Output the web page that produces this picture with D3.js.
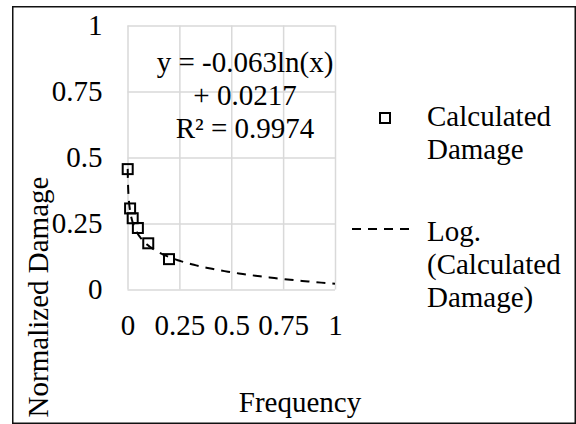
<!DOCTYPE html>
<html>
<head>
<meta charset="utf-8">
<script src="https://cdn.jsdelivr.net/npm/d3@7"></script>
<style>
  body { margin: 0; background: #fff; }
  svg text { font-family: "Liberation Serif", "Tinos", "Times New Roman", Times, "DejaVu Serif", serif; fill: #000; }
</style>
</head>
<body>
<div id="container"></div>
<script>
(function(){
  "use strict";
  // values
  var frequency = [0.001, 0.0125, 0.025, 0.05, 0.1, 0.2];
  var damage = [0.456, 0.307, 0.270, 0.233, 0.175, 0.115];
  var tickValues = [0, 0.25, 0.5, 0.75, 1];
  var tickLabels = ["0", "0.25", "0.5", "0.75", "1"];
  // log trendline y = a*ln(x) + b, as printed on the chart
  var trendCoef = [-0.063, 0.0217];
  var equationLines = ["y = -0.063ln(x)", "+ 0.0217", "R² = 0.9974"];
  var legendMarker = ["Calculated", "Damage"];
  var legendTrend = ["Log.", "(Calculated", "Damage)"];

  var W = 576, H = 424;
  var margin = { top: 25.5, left: 127.5 };
  var width = 207.5;
  var height = 264;
  var fontSize = 29;
  var lineH = 33;
  var serif = '"Liberation Serif", "Tinos", "Times New Roman", Times, "DejaVu Serif", serif';

  var svg = d3.select("#container").append("svg")
      .attr("width", W)
      .attr("height", H)
      .attr("font-family", serif);

  // outer frame
  svg.append("rect")
      .attr("x", 12.75).attr("y", 6.75)
      .attr("width", 562.5).attr("height", 416.5)
      .attr("fill", "none")
      .attr("stroke", "#111")
      .attr("stroke-width", 1.5);

  var chart = svg.append("g")
      .attr("transform", "translate(" + margin.left + "," + margin.top + ")");

  var xScale = d3.scaleLinear().domain([0, 1]).range([0, width]);
  var yScale = d3.scaleLinear().domain([0, 1]).range([height, 0]);

  var xAxis = d3.axisBottom(xScale)
      .tickValues(tickValues)
      .tickFormat(function(d, i) { return tickLabels[i]; })
      .tickSize(-height)
      .tickPadding(25);
  var yAxis = d3.axisLeft(yScale)
      .tickValues(tickValues)
      .tickFormat(function(d, i) { return tickLabels[i]; })
      .tickSize(-width)
      .tickPadding(25);

  var xg = chart.append("g")
      .attr("transform", "translate(0," + height + ")")
      .call(xAxis);
  var yg = chart.append("g").call(yAxis);

  [xg, yg].forEach(function(g) {
    g.attr("font-family", serif).attr("font-size", fontSize);
    g.select(".domain").remove();
    g.selectAll(".tick line").attr("stroke", "#d9d9d9").attr("stroke-width", 1.5);
    g.selectAll(".tick text").attr("fill", "#000");
  });

  // trendline from the smallest frequency to the right edge
  var xMin = d3.min(frequency);
  var trendX = d3.range(0, 201).map(function(i) {
    return Math.exp(Math.log(xMin) + (Math.log(1) - Math.log(xMin)) * i / 200);
  });
  var trendLine = d3.line()
      .x(function(d) { return xScale(d); })
      .y(function(d) { return yScale(trendCoef[0] * Math.log(d) + trendCoef[1]); });
  chart.append("path")
      .datum(trendX)
      .attr("d", trendLine)
      .attr("fill", "none")
      .attr("stroke", "#000")
      .attr("stroke-width", 2)
      .attr("stroke-dasharray", "9,7");

  // markers
  var ms = 10;
  chart.selectAll(".pt")
      .data(frequency)
      .enter().append("rect")
      .attr("class", "pt")
      .attr("x", function(d) { return xScale(d) - ms / 2; })
      .attr("y", function(d, i) { return yScale(damage[i]) - ms / 2; })
      .attr("width", ms)
      .attr("height", ms)
      .attr("fill", "none")
      .attr("stroke", "#000")
      .attr("stroke-width", 2);

  // trendline equation
  var eq = chart.append("text")
      .attr("text-anchor", "middle")
      .attr("font-size", fontSize);
  eq.selectAll("tspan")
      .data(equationLines)
      .enter().append("tspan")
      .attr("x", 245 - margin.left)
      .attr("y", function(d, i) { return 72 - margin.top + i * lineH; })
      .text(function(d) { return d; });

  // axis titles
  svg.append("text")
      .attr("x", 300).attr("y", 412)
      .attr("text-anchor", "middle")
      .attr("font-size", fontSize)
      .text("Frequency");
  svg.append("text")
      .attr("transform", "translate(48,297) rotate(-90)")
      .attr("text-anchor", "middle")
      .attr("font-size", fontSize)
      .text("Normalized Damage");

  // legend
  var legend = svg.append("g");
  legend.append("rect")
      .attr("x", 385 - ms / 2).attr("y", 118 - ms / 2)
      .attr("width", ms).attr("height", ms)
      .attr("fill", "none").attr("stroke", "#000").attr("stroke-width", 2);
  legend.append("text")
      .attr("font-size", fontSize)
      .selectAll("tspan").data(legendMarker).enter().append("tspan")
      .attr("x", 427).attr("y", function(d, i) { return 126 + i * lineH; })
      .text(function(d) { return d; });
  legend.append("line")
      .attr("x1", 352).attr("x2", 416).attr("y1", 229).attr("y2", 229)
      .attr("stroke", "#000").attr("stroke-width", 2)
      .attr("stroke-dasharray", "9,7");
  legend.append("text")
      .attr("font-size", fontSize)
      .selectAll("tspan").data(legendTrend).enter().append("tspan")
      .attr("x", 427).attr("y", function(d, i) { return 241 + i * lineH; })
      .text(function(d) { return d; });
})();
</script>
</body>
</html>
